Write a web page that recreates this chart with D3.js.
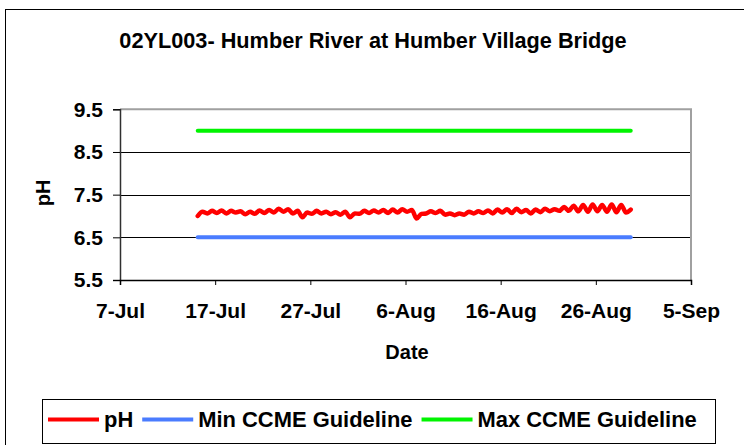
<!DOCTYPE html>
<html><head><meta charset="utf-8">
<script src="https://cdn.jsdelivr.net/npm/d3@7"></script>
<style>
body{margin:0;background:#fff}
text{font-family:"Liberation Sans",Arial,sans-serif;font-weight:bold;fill:#000}
</style>
</head><body>
<svg id="chart" width="744" height="445"></svg>
<script>
// ---------- data ----------
const chartTitle = "02YL003- Humber River at Humber Village Bridge";
const xAxisTitle = "Date";
const yAxisTitle = "pH";
const xTickDates = ["2008-07-07","2008-07-17","2008-07-27","2008-08-06","2008-08-16","2008-08-26","2008-09-05"];
const yTickValues = [5.5, 6.5, 7.5, 8.5, 9.5];
const seriesNames = ["pH", "Min CCME Guideline", "Max CCME Guideline"];
const seriesColors = ["#ff0000", "#4a7cff", "#00f400"];
// pH readings, one every 12 hours from phStart
const phStart = "2008-07-15T04:00";
const phStepHours = 12;
const phValues = [
  7.00,7.10, 7.06,7.12, 7.07,7.13, 7.06,7.12, 7.08,7.11, 7.04,7.10, 7.05,7.13, 7.07,7.14,
  7.08,7.17, 7.10,7.16, 7.06,7.12, 6.97,7.08, 7.05,7.12, 7.06,7.10, 7.04,7.09, 7.03,7.10,
  6.97,7.06, 7.05,7.12, 7.07,7.13, 7.08,7.14, 7.07,7.15, 7.08,7.16, 7.10,7.14, 6.94,7.05,
  7.06,7.11, 7.07,7.12, 7.03,7.06, 7.02,7.06, 7.03,7.10, 7.06,7.11, 7.07,7.13, 7.06,7.15,
  7.08,7.16, 7.07,7.17, 7.09,7.14, 7.06,7.15, 7.09,7.17, 7.11,7.16, 7.12,7.21, 7.12,7.24,
  7.11,7.26, 7.10,7.27, 7.11,7.26, 7.10,7.27, 7.09,7.26, 7.08,7.15
];
const guideDates = ["2008-07-15T04:00", "2008-08-29T16:00"];
const minGuideValues = [6.5, 6.5];
const maxGuideValues = [9.0, 9.0];

// ---------- layout ----------
const plot = {left: 120, right: 691, top: 109.3, bottom: 280};
const TICK_FS = 21;

const parse = d3.isoParse;
const x = d3.scaleTime()
  .domain([parse(xTickDates[0]), parse(xTickDates[xTickDates.length - 1])])
  .range([plot.left, plot.right]);
const y = d3.scaleLinear().domain([5.5, 9.5]).range([plot.bottom, plot.top]);

const svg = d3.select("#chart");
svg.append("rect").attr("width", 744).attr("height", 445).attr("fill", "#fff");
// outer chart border
svg.append("rect").attr("x", 5.5).attr("y", 9.5).attr("width", 760).attr("height", 460)
  .attr("fill", "none").attr("stroke", "#000").attr("stroke-width", 1);

function label(x0, y0, txt, opts = {}) {
  const sx = opts.sx || 1;
  return svg.append("text")
    .attr("transform", `translate(${x0},${y0})${opts.rotate ? ` rotate(${opts.rotate})` : ""} scale(${sx},1)`)
    .attr("font-size", opts.size + "px")
    .attr("text-anchor", opts.anchor || "middle")
    .text(txt);
}

// title
label(373, 48, chartTitle, {size: 21.5, sx: 1.01});

// gridlines
svg.append("g").selectAll("line").data(yTickValues.filter(v => v > 5.5 && v < 9.5)).join("line")
  .attr("x1", plot.left).attr("x2", plot.right)
  .attr("y1", d => Math.round(y(d)) + 0.5).attr("y2", d => Math.round(y(d)) + 0.5)
  .attr("stroke", "#000").attr("stroke-width", 1);

// plot border (top & right, gray)
svg.append("path")
  .attr("d", `M${plot.left},${plot.top}H${plot.right}V${plot.bottom}`)
  .attr("fill", "none").attr("stroke", "#a0a0a0").attr("stroke-width", 2);

// y axis
const yAxis = svg.append("g").attr("transform", `translate(${plot.left},0)`)
  .call(d3.axisLeft(y).tickValues(yTickValues).tickSize(7).tickPadding(10).tickFormat(d3.format(".1f")));
yAxis.attr("font-family", null).attr("font-size", null);
yAxis.select(".domain").attr("stroke", "#303030").attr("stroke-width", 1.5);
yAxis.selectAll(".tick line").attr("stroke", "#000");
yAxis.selectAll(".tick text").attr("font-size", TICK_FS + "px").attr("fill", "#000");

// x axis
const xAxis = svg.append("g").attr("transform", `translate(0,${plot.bottom})`)
  .call(d3.axisBottom(x).tickValues(xTickDates.map(parse)).tickSize(5).tickFormat(d3.timeFormat("%-d-%b")));
xAxis.attr("font-family", null).attr("font-size", null);
xAxis.select(".domain").attr("stroke", "#000").attr("stroke-width", 1.5);
xAxis.selectAll(".tick line").attr("stroke", "#000");
xAxis.selectAll(".tick text").attr("y", 23).attr("font-size", TICK_FS + "px").attr("fill", "#000");

// axis titles
label(407, 359, xAxisTitle, {size: 20});
label(50, 193, yAxisTitle, {size: 20, rotate: -90});

// series
const t0 = parse(phStart).getTime();
const phData = phValues.map((v, i) => ({d: new Date(t0 + i * phStepHours * 3600e3), v}));
const minData = guideDates.map((d, i) => ({d: parse(d), v: minGuideValues[i]}));
const maxData = guideDates.map((d, i) => ({d: parse(d), v: maxGuideValues[i]}));
const seriesData = [phData, minData, maxData];
[1, 2, 0].forEach(k => {
  const line = d3.line().x(p => x(p.d)).y(p => y(p.v)).curve(k === 0 ? d3.curveMonotoneX : d3.curveLinear);
  svg.append("path").datum(seriesData[k]).attr("d", line)
    .attr("fill", "none").attr("stroke", seriesColors[k])
    .attr("stroke-width", k === 0 ? 4.5 : 4).attr("stroke-linejoin", "round").attr("stroke-linecap", "round");
});

// legend
svg.append("rect").attr("x", 42.5).attr("y", 399.5).attr("width", 673).attr("height", 44)
  .attr("fill", "#fff").attr("stroke", "#000").attr("stroke-width", 1);
let lx = 48;
const ly = 419.5;
seriesNames.forEach((name, k) => {
  svg.append("line").attr("x1", lx).attr("x2", lx + 51).attr("y1", ly).attr("y2", ly)
    .attr("stroke", seriesColors[k]).attr("stroke-width", 4);
  const t = label(lx + 56, ly + 7, name, {anchor: "start", size: 21.5, sx: 1.02});
  const w = t.node().getComputedTextLength() * 1.02;
  lx = lx + 56 + w + 9;
});
</script>
</body></html>
